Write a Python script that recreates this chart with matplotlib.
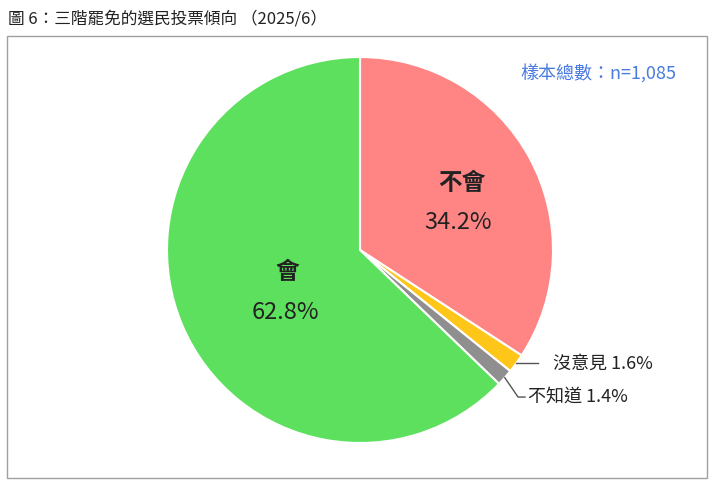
import matplotlib
matplotlib.use("Agg")
import matplotlib.pyplot as plt
from matplotlib.patches import Rectangle
import numpy as np

plt.rcParams['font.family'] = ['Noto Sans CJK TC', 'DejaVu Sans']

labels = ['不會', '沒意見', '不知道', '會']
values = [34.2, 1.6, 1.4, 62.8]
colors = ['#FF8585', '#FFC61A', '#8F8F8F', '#5DE05D']
title = '圖 6：三階罷免的選民投票傾向 （2025/6）'
sample_note = '樣本總數：n=1,085'

W, H = 713, 482
fig = plt.figure(figsize=(W/100, H/100), dpi=100)
fig.patch.set_facecolor('white')

# frame
fig.patches.append(Rectangle((7/W, 4/H), 700/W, 442/H, transform=fig.transFigure,
                             fill=False, edgecolor='#A0A0A0', linewidth=1.0))
fig.text(8/W, 1 - 19/H, title, fontsize=12, color='#222222', va='center', ha='left')

R = 193
cx, cy = 360, 250
ax = fig.add_axes([(cx - R)/W, (H - cy - R)/H, 2*R/W, 2*R/H])
wedges, _ = ax.pie(values, colors=colors, startangle=90, counterclock=False,
                   wedgeprops=dict(edgecolor='white', linewidth=1.5))
ax.set_xlim(-1, 1); ax.set_ylim(-1, 1)
ax.set_aspect('equal')
ax.axis('off')

txt = '#222222'
# big inside labels
ax.text(0.528, 0.347, labels[0], fontsize=17, fontweight='bold', ha='center', va='center', color=txt)
ax.text(0.508, 0.145, f'{values[0]:.1f}%', fontsize=17, fontweight='medium', ha='center', va='center', color=txt)
ax.text(-0.378, -0.114, labels[3], fontsize=17, fontweight='bold', ha='center', va='center', color=txt)
ax.text(-0.389, -0.326, f'{values[3]:.1f}%', fontsize=17, fontweight='medium', ha='center', va='center', color=txt)

# small slices with leader lines
cum = np.cumsum([0] + values)
def mid_angle(i):
    return np.deg2rad(90 - (cum[i] + values[i]/2) * 3.6)

a1 = mid_angle(1)
p1 = (np.cos(a1), np.sin(a1))
ax.plot([p1[0], 0.922], [p1[1], p1[1]], color='#555555', lw=1, clip_on=False)
ax.text(1.0, p1[1], f'{labels[1]} {values[1]:.1f}%', fontsize=13, fontweight='medium', ha='left', va='center', color=txt, clip_on=False)

a2 = mid_angle(2)
p2 = (np.cos(a2), np.sin(a2))
ax.plot([p2[0], 0.819, 0.855], [p2[1], -0.762, -0.762], color='#555555', lw=1, clip_on=False)
ax.text(0.870, -0.762, f'{labels[2]} {values[2]:.1f}%', fontsize=13, fontweight='medium', ha='left', va='center', color=txt, clip_on=False)

fig.text(598/W, 1 - 73/H, sample_note, fontsize=13, fontweight='medium', color='#4A7BE0', ha='center', va='center')

fig.savefig('out.png', dpi=100, facecolor='white')
